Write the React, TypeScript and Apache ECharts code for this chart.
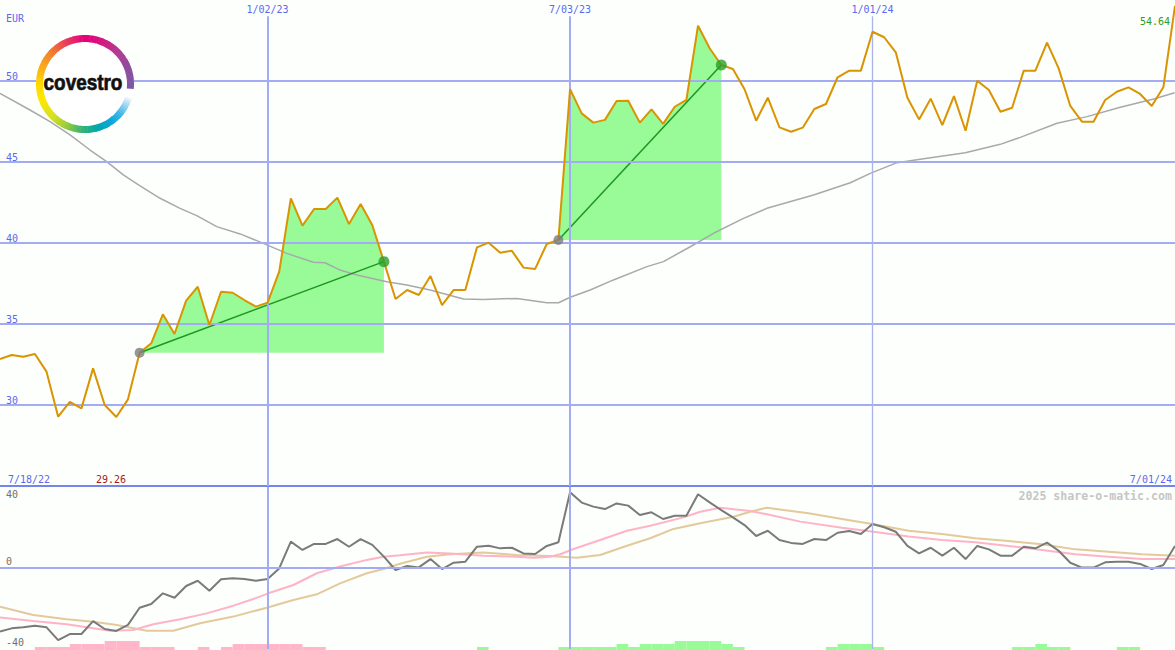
import React, { useEffect, useRef } from "react";
import * as echarts from "echarts";

// ---------- data ----------
const currency = "EUR";
const startLabel = "7/18/22";
const endLabel = "7/01/24";
const watermark = "2025 share-o-matic.com";
const dateTickIdx = [23, 49, 75];
const dateTickLabels = ["1/02/23", "7/03/23", "1/01/24"];
const priceGridLevels = [30, 35, 40, 45, 50];

// weekly closing prices (EUR)
const price = [
  32.84, 33.09, 32.98, 33.15, 32.06, 29.28, 30.2, 29.79, 32.26, 30.0,
  29.26, 30.35, 33.23, 33.81, 35.6, 34.38, 36.44, 37.3, 34.94, 36.99,
  36.93, 36.48, 36.07, 36.32, 38.23, 42.76, 41.07, 42.1, 42.1, 42.8,
  41.17, 42.41, 41.11, 38.85, 36.54, 37.1, 36.79, 37.96, 36.17, 37.1,
  37.1, 39.73, 40.02, 39.4, 39.52, 38.48, 38.4, 39.94, 40.19, 49.5,
  48.0, 47.43, 47.6, 48.77, 48.78, 47.43, 48.25, 47.35, 48.41, 48.83,
  53.41, 52.02, 50.99, 50.74, 49.49, 47.55, 48.97, 47.14, 46.87, 47.12,
  48.27, 48.58, 50.23, 50.64, 50.64, 53.04, 52.7, 51.77, 48.97, 47.63,
  48.91, 47.28, 49.07, 46.93, 50.02, 49.44, 48.1, 48.35, 50.64, 50.64,
  52.37, 50.78, 48.46, 47.49, 47.49, 48.83, 49.34, 49.61, 49.2, 48.46,
  49.61, 54.64,
];

// long moving average [week index, value]
const longMA: [number, number][] = [
  [0, 49.24], [2.58, 48.21], [4.3, 47.49], [6.02, 46.67], [7.74, 45.74],
  [9.17, 45.02], [10.6, 44.2], [12.04, 43.52], [13.76, 42.76], [15.48, 42.14],
  [16.91, 41.69], [18.63, 41.01], [20.64, 40.56], [22.64, 39.98], [24.65, 39.36],
  [26.94, 38.81], [27.95, 38.78], [29.23, 38.33], [30.67, 38.02], [33.25, 37.61],
  [34.97, 37.41], [36.97, 37.1], [39.84, 36.54], [41.56, 36.52], [44.43, 36.58],
  [47.01, 36.31], [48.01, 36.31], [49.01, 36.65], [50.73, 37.1], [52.73, 37.72],
  [55.61, 38.54], [57.03, 38.85], [59.33, 39.77], [61.33, 40.6], [63.91, 41.52],
  [65.92, 42.14], [69.93, 42.96], [73.09, 43.72], [74.81, 44.3], [77.1, 44.96],
  [79.1, 45.17], [82.98, 45.57], [85.98, 46.09], [87.7, 46.52], [90.86, 47.39],
  [93.44, 47.8], [96.3, 48.38], [99.17, 48.89], [100.97, 49.28],
];

// trades: entry / exit week index
const tradeEntries = [12, 48];
const tradeExits = [33, 62];

// lower panel: momentum (weekly)
const momentum = [
  -31.4, -29.8, -29.3, -28.5, -29.3, -35.6, -32.6, -32.6, -26.2, -30.1,
  -31.1, -28.1, -19.6, -17.8, -12.5, -14.7, -8.9, -6.3, -11.2, -5.6,
  -5.1, -5.4, -6.3, -5.4, -0.2, 13.0, 8.9, 11.9, 11.9, 14.3,
  10.5, 14.3, 11.4, 5.6, -1.0, 1.0, 0.3, 4.4, -0.5, 2.6,
  3.1, 10.5, 11.0, 9.7, 10.0, 7.2, 6.9, 10.9, 12.7, 37.4,
  32.3, 30.3, 29.1, 31.9, 30.8, 26.2, 27.5, 24.2, 25.8, 25.8,
  36.4, 32.4, 28.6, 25.0, 21.2, 15.8, 18.4, 13.8, 12.4, 11.9,
  14.3, 13.8, 17.4, 18.3, 16.8, 21.7, 20.1, 17.9, 10.9, 7.2,
  10.0, 6.1, 10.0, 4.4, 10.9, 9.2, 6.1, 6.1, 10.5, 9.7,
  12.5, 8.5, 2.6, 0.2, 0.2, 2.8, 3.1, 3.1, 2.0, -0.5,
  1.5, 10.9,
];

// lower panel: fast signal (pink) [week index, value]
const fastSignal: [number, number][] = [
  [0, -24.5], [2.86, -26.2], [5.73, -27.8], [8.02, -29.8], [9.46, -31.0],
  [11.46, -30.6], [13.18, -27.8], [15.48, -25.3], [17.77, -22.4], [20.06, -18.6],
  [21.78, -15.3], [23.07, -12.5], [25.22, -8.4], [27.23, -2.6], [29.23, 0.7],
  [31.53, 4.0], [32.96, 5.6], [34.39, 6.3], [36.69, 7.6], [38.69, 7.2],
  [41.56, 6.1], [44.43, 5.6], [45.86, 5.1], [47.29, 5.6], [48.15, 6.8],
  [49.3, 9.4], [51.59, 13.8], [53.89, 18.4], [55.89, 20.9], [58.75, 25.0],
  [60.19, 27.8], [61.91, 29.8], [64.49, 28.1], [65.92, 26.5], [68.79, 22.9],
  [72.37, 19.9], [75.09, 17.9], [78.1, 15.5], [80.97, 13.8], [83.83, 12.7],
  [86.7, 10.9], [89.57, 8.9], [92.43, 6.8], [95.3, 5.6], [98.17, 4.4], [101, 4.4],
];

// lower panel: slow signal (tan) [week index, value]
const slowSignal: [number, number][] = [
  [0, -19.1], [2.86, -23.2], [5.73, -25.3], [8.02, -26.5], [10.03, -28.1],
  [12.61, -31.0], [14.9, -31.0], [17.2, -27.3], [20.06, -24.0], [22.93, -19.6],
  [25.22, -15.8], [27.23, -13.0], [29.23, -7.6], [31.53, -2.6], [32.96, -0.5],
  [34.39, 2.1], [36.69, 5.6], [38.69, 6.8], [41.56, 7.6], [44.43, 6.4],
  [47.29, 5.9], [49.59, 5.1], [51.59, 6.4], [53.89, 11.0], [55.89, 14.7],
  [57.89, 19.3], [60.19, 22.1], [63.05, 25.3], [64.49, 27.8], [65.92, 29.8],
  [67.35, 28.6], [69.5, 27.0], [72.37, 24.2], [75.09, 21.6], [78.1, 18.4],
  [80.97, 16.8], [83.83, 14.7], [86.7, 13.3], [89.57, 11.7], [92.43, 9.2],
  [95.3, 8.0], [98.17, 6.8], [101, 6.1],
];

// bottom histogram levels (negative = pink, positive = green)
const histLevels = [
  0, 0, 0, -1, -1, -1, -2, -2, -2, -3,
  -3, -3, -1, -1, -1, 0, 0, -1, 0, -1,
  -2, -2, -2, -2, -2, -2, -1, -1, 0, 0,
  0, 0, 0, 0, 0, 0, 0, 0, 0, 0,
  0, 1, 0, 0, 0, 0, 0, 0, 1, 1,
  1, 1, 1, 2, 1, 2, 2, 2, 3, 3,
  3, 3, 2, 1, 0, 0, 0, 0, 0, 0,
  0, 1, 2, 2, 2, 1, 0, 0, 0, 0,
  0, 0, 0, 0, 0, 0, 0, 1, 1, 2,
  1, 1, 0, 0, 0, 0, 1, 1, 0, 0,
  0, 0,
];

// ---------- styles ----------
const W = 1175;
const H = 650;
const MONO = "DejaVu Sans Mono";
const BLUE_TEXT = "#5a6af0";
const GRID_BLUE = "#a3acf2";
const SEP_BLUE = "#7584ea";
const GREEN_FILL = "#98fb98";

const ringStops: [number, string][] = [
  [-6, "#7c5aa6"], [20, "#8e4c9e"], [45, "#b23a92"], [70, "#d6147f"],
  [90, "#e4007c"], [115, "#ea3c5a"], [135, "#f2782e"], [155, "#f8a41c"],
  [180, "#ffd800"], [200, "#fde800"], [225, "#d8e020"], [245, "#9ccc3c"],
  [265, "#3cb470"], [285, "#00a8a8"], [305, "#0aa5dc"], [320, "#40b8e8"],
  [335, "#b0dcf4"], [344, "#ffffff"],
];

function hexToRgb(h: string) {
  const n = parseInt(h.slice(1), 16);
  return [(n >> 16) & 255, (n >> 8) & 255, n & 255];
}
function ringColor(t: number) {
  for (let i = 0; i < ringStops.length - 1; i++) {
    const [a, ca] = ringStops[i];
    const [b, cb] = ringStops[i + 1];
    if (t >= a && t <= b) {
      const f = (t - a) / (b - a);
      const A = hexToRgb(ca);
      const B = hexToRgb(cb);
      const c = A.map((v, k) => Math.round(v + (B[k] - v) * f));
      return `rgb(${c[0]},${c[1]},${c[2]})`;
    }
  }
  return ringStops[ringStops.length - 1][1];
}

function buildLogo() {
  const cx = 85, cy = 84;
  const els: any[] = [
    { type: "circle", shape: { cx, cy, r: 49 }, style: { fill: "#ffffff" }, z: 100, silent: true },
  ];
  const step = 3;
  for (let th = -6; th < 344; th += step) {
    const a = th;
    const b = Math.min(th + step + 0.6, 344);
    els.push({
      type: "sector",
      shape: {
        cx, cy, r0: 42, r: 49,
        startAngle: (-b * Math.PI) / 180,
        endAngle: (-a * Math.PI) / 180,
        clockwise: true,
      },
      style: { fill: ringColor(th + step / 2) },
      z: 101,
      silent: true,
    });
  }
  els.push({
    type: "text",
    x: 83,
    y: 82,
    scaleX: 0.86,
    z: 102,
    silent: true,
    style: {
      text: "covestro",
      fill: "#111111",
      stroke: "#111111",
      lineWidth: 0.7,
      fontSize: 22,
      fontWeight: "bold",
      fontFamily: "Liberation Sans",
      align: "center",
      verticalAlign: "middle",
    },
  });
  return els;
}

function txt(text: string, x: number, y: number, fill: string, align = "left", extra: any = {}) {
  return {
    type: "text",
    x,
    y,
    z: 110,
    silent: true,
    style: {
      text,
      fill,
      fontSize: 10,
      fontFamily: MONO,
      align,
      verticalAlign: "middle",
      ...extra,
    },
  };
}

export default function App() {
  const ref = useRef<HTMLDivElement>(null);

  useEffect(() => {
    if (!ref.current) return;
    const chart = echarts.init(ref.current, undefined, { renderer: "svg" });
    const xMax = price.length - 1;
    const xAx = (gridIndex: number) => ({ type: "value", gridIndex, min: 0, max: xMax, show: false });

    const minPrice = Math.min(...price).toFixed(2);
    const lastPrice = price[price.length - 1].toFixed(2);

    const areaSeries = tradeEntries.map((e, k) => {
      const x = tradeExits[k];
      const pts: [number, number][] = [];
      for (let i = e; i <= x; i++) pts.push([i, price[i]]);
      return {
        type: "line",
        xAxisIndex: 0,
        yAxisIndex: 0,
        data: pts,
        symbol: "none",
        silent: true,
        z: 2,
        lineStyle: { width: 0, opacity: 0 },
        areaStyle: { color: GREEN_FILL, opacity: 1, origin: price[e] },
      };
    });

    const tradeLines = tradeEntries.map((e, k) => ({
      type: "line",
      xAxisIndex: 0,
      yAxisIndex: 0,
      data: [[e, price[e]], [tradeExits[k], price[tradeExits[k]]]],
      symbol: "none",
      silent: true,
      z: 4,
      lineStyle: { color: "#1e961e", width: 1.5 },
    }));

    const vertMain = dateTickIdx.map((t, k) => [
      {
        coord: [t, 25],
        lineStyle: { color: k === 2 ? "#aab3ea" : GRID_BLUE, width: k === 2 ? 1.3 : 2, type: "solid" },
        label: {
          show: true,
          position: "end",
          formatter: dateTickLabels[k],
          color: BLUE_TEXT,
          fontSize: 10,
          fontFamily: MONO,
          distance: 2,
        },
      },
      { coord: [t, 54.0] },
    ]);

    const option: any = {
      animation: false,
      backgroundColor: "#fcfffb",
      grid: [
        { left: 0, top: 0, width: W, height: 486 },
        { left: 0, top: 487, width: W, height: 162 },
        { left: 0, top: 641, width: W, height: 9 },
      ],
      xAxis: [xAx(0), xAx(1), xAx(2)],
      yAxis: [
        {
          type: "value",
          gridIndex: 0,
          min: 25,
          max: 55,
          interval: 5,
          axisLine: { show: false },
          axisTick: { show: false },
          splitLine: { show: false },
          axisLabel: {
            inside: true,
            margin: 6,
            verticalAlign: "bottom",
            color: BLUE_TEXT,
            fontSize: 10,
            fontFamily: MONO,
            showMinLabel: false,
            showMaxLabel: false,
          },
        },
        {
          type: "value",
          gridIndex: 1,
          min: -40,
          max: 40,
          interval: 40,
          axisLine: { show: false },
          axisTick: { show: false },
          splitLine: { show: false },
          axisLabel: {
            inside: true,
            margin: 6,
            verticalAlign: "middle",
            formatter: (v: number) => (v === 40 ? `{lo|${v}}` : `{hi|${v}}`),
            rich: {
              hi: { color: "#707070", fontSize: 10, fontFamily: MONO, padding: [0, 0, 13, 0] },
              lo: { color: "#707070", fontSize: 10, fontFamily: MONO, padding: [15, 0, 0, 0] },
            },
          },
        },
        { type: "value", gridIndex: 2, min: 0, max: 3, show: false },
      ],
      series: [
        {
          type: "line",
          xAxisIndex: 0,
          yAxisIndex: 0,
          data: price.map((v, i) => [i, v]),
          symbol: "none",
          silent: true,
          z: 1,
          lineStyle: { opacity: 0, width: 0 },
          markLine: {
            silent: true,
            symbol: ["none", "none"],
            label: { show: false },
            data: [
              ...priceGridLevels.map((v) => ({
                yAxis: v,
                lineStyle: { color: GRID_BLUE, width: 2, type: "solid" },
              })),
              { yAxis: 25, lineStyle: { color: SEP_BLUE, width: 2, type: "solid" } },
              ...vertMain,
            ],
          },
        },
        ...areaSeries,
        {
          type: "line",
          xAxisIndex: 0,
          yAxisIndex: 0,
          data: longMA,
          symbol: "none",
          silent: true,
          z: 3,
          lineStyle: { color: "#a9a9a9", width: 1.5 },
        },
        ...tradeLines,
        {
          type: "line",
          xAxisIndex: 0,
          yAxisIndex: 0,
          data: price.map((v, i) => [i, v]),
          symbol: "none",
          silent: true,
          z: 5,
          lineStyle: { color: "#d99400", width: 2 },
        },
        {
          type: "scatter",
          xAxisIndex: 0,
          yAxisIndex: 0,
          silent: true,
          z: 6,
          symbolSize: 10,
          itemStyle: { color: "#7d7d7d" },
          data: tradeEntries.map((e) => [e, price[e]]),
        },
        {
          type: "scatter",
          xAxisIndex: 0,
          yAxisIndex: 0,
          silent: true,
          z: 6,
          symbolSize: 11,
          itemStyle: { color: "#2a9d2a" },
          data: tradeExits.map((e) => [e, price[e]]),
        },
        // lower panel
        {
          type: "line",
          xAxisIndex: 1,
          yAxisIndex: 1,
          data: momentum.map((v, i) => [i, v]),
          symbol: "none",
          silent: true,
          z: 1,
          lineStyle: { opacity: 0, width: 0 },
          markLine: {
            silent: true,
            symbol: ["none", "none"],
            label: { show: false },
            data: [
              { yAxis: 0, lineStyle: { color: GRID_BLUE, width: 2, type: "solid" } },
              ...dateTickIdx.map((t, k) => ({
                xAxis: t,
                lineStyle: { color: k === 2 ? "#aab3ea" : GRID_BLUE, width: k === 2 ? 1.3 : 2, type: "solid" },
              })),
            ],
          },
        },
        {
          type: "line",
          xAxisIndex: 1,
          yAxisIndex: 1,
          data: slowSignal,
          symbol: "none",
          silent: true,
          z: 2,
          lineStyle: { color: "#e3c99b", width: 2 },
        },
        {
          type: "line",
          xAxisIndex: 1,
          yAxisIndex: 1,
          data: fastSignal,
          symbol: "none",
          silent: true,
          z: 3,
          lineStyle: { color: "#ffb3c6", width: 2 },
        },
        {
          type: "line",
          xAxisIndex: 1,
          yAxisIndex: 1,
          data: momentum.map((v, i) => [i, v]),
          symbol: "none",
          silent: true,
          z: 4,
          lineStyle: { color: "#7a7a7a", width: 2 },
        },
        {
          type: "bar",
          xAxisIndex: 2,
          yAxisIndex: 2,
          silent: true,
          barWidth: W / xMax,
          data: histLevels
            .map((v, i) => ({
              value: [i + 0.5, Math.abs(v)],
              itemStyle: { color: v < 0 ? "#ffb6c8" : GREEN_FILL },
            }))
            .filter((d) => d.value[1] !== 0),
        },
      ],
      graphic: {
        elements: [
          ...buildLogo(),
          txt(currency, 6, 18, BLUE_TEXT),
          txt(startLabel, 8, 479, BLUE_TEXT),
          txt(minPrice, 96, 479, "#a01c1c"),
          txt(endLabel, 1172, 479, BLUE_TEXT, "right"),
          txt(lastPrice, 1170, 21, "#2a9a2a", "right"),
          txt(watermark, 1172, 496, "#c6c6c6", "right", { fontSize: 11.6, fontWeight: "bold" }),
        ],
      },
    };

    chart.setOption(option);
    return () => chart.dispose();
  }, []);

  return (
    <div
      ref={ref}
      style={{ position: "fixed", left: 0, top: 0, width: W + "px", height: H + "px" }}
    />
  );
}
